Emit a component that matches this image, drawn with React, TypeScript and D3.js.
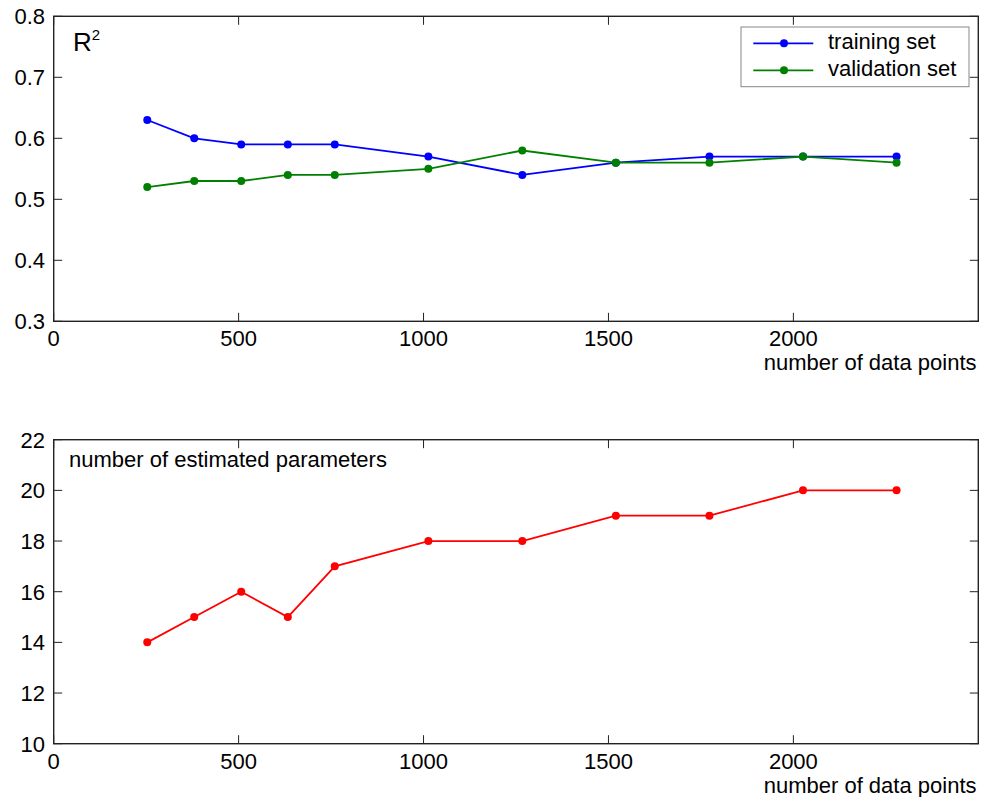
import React from "react";
import * as d3 from "d3";

const sizes = [253, 380, 507, 633, 760, 1013, 1267, 1520, 1773, 2026, 2279];
const trainingR2 = [0.63, 0.6, 0.59, 0.59, 0.59, 0.57, 0.54, 0.56, 0.57, 0.57, 0.57];
const validationR2 = [0.52, 0.53, 0.53, 0.54, 0.54, 0.55, 0.58, 0.56, 0.56, 0.57, 0.56];
const numParams = [14, 15, 16, 15, 17, 18, 18, 19, 19, 20, 20];
const xTicks = [0, 500, 1000, 1500, 2000];
const r2Ticks = [0.3, 0.4, 0.5, 0.6, 0.7, 0.8];
const paramTicks = [10, 12, 14, 16, 18, 20, 22];

const W = 982;
const H = 797;
const FONT = "'Liberation Sans', Arial, sans-serif";
const AX = "#222";

type Series = { values: number[]; color: string };

function Panel(props: {
  top: number;
  bottom: number;
  yDomain: [number, number];
  yTicks: number[];
  yFmt: (v: number) => string;
  series: Series[];
  children?: React.ReactNode;
}) {
  const { top, bottom, yDomain, yTicks, yFmt, series } = props;
  const left = 53.7;
  const right = 978.3;
  const x = d3.scaleLinear().domain([0, 2500]).range([left, right]);
  const y = d3.scaleLinear().domain(yDomain).range([bottom, top]);
  const tl = 8.5;
  return (
    <g>
      {series.map((s, si) => {
        const line = d3
          .line<number>()
          .x((_, i) => x(sizes[i]))
          .y((v) => y(v));
        return (
          <g key={si}>
            <path d={line(s.values) || ""} fill="none" stroke={s.color} strokeWidth={1.8} />
            {s.values.map((v, i) => (
              <circle key={i} cx={x(sizes[i])} cy={y(v)} r={4} fill={s.color} />
            ))}
          </g>
        );
      })}
      {xTicks.map((t) => (
        <g key={"x" + t}>
          <line x1={x(t)} x2={x(t)} y1={bottom} y2={bottom - tl} stroke={AX} strokeWidth={1} />
          <line x1={x(t)} x2={x(t)} y1={top} y2={top + tl} stroke={AX} strokeWidth={1} />
          <text x={x(t)} y={bottom + 25} fontSize={22} textAnchor="middle" fontFamily={FONT} fill="#000">
            {t}
          </text>
        </g>
      ))}
      {yTicks.map((t) => (
        <g key={"y" + t}>
          <line x1={left} x2={left + tl} y1={y(t)} y2={y(t)} stroke={AX} strokeWidth={1} />
          <line x1={right} x2={right - tl} y1={y(t)} y2={y(t)} stroke={AX} strokeWidth={1} />
          <text x={45} y={y(t)} dy="0.36em" fontSize={22} textAnchor="end" fontFamily={FONT} fill="#000">
            {yFmt(t)}
          </text>
        </g>
      ))}
      <rect x={left} y={top} width={right - left} height={bottom - top} fill="none" stroke={AX} strokeWidth={1.4} />
      <text x={976.5} y={bottom + 49} fontSize={22} textAnchor="end" fontFamily={FONT} fill="#000">
        number of data points
      </text>
      {props.children}
    </g>
  );
}

export default function App() {
  const legendItems = [
    { label: "training set", color: "#0000ff" },
    { label: "validation set", color: "#008000" },
  ];
  return (
    <svg width={W} height={H} style={{ position: "absolute", left: 0, top: 0, background: "#fff" }}>
      <rect width={W} height={H} fill="#fff" />
      <Panel
        top={16.3}
        bottom={321.3}
        yDomain={[0.3, 0.8]}
        yTicks={r2Ticks}
        yFmt={(v) => v.toFixed(1)}
        series={[
          { values: trainingR2, color: "#0000ff" },
          { values: validationR2, color: "#008000" },
        ]}
      >
        <text x={73} y={50.5} fontSize={26} fontFamily={FONT} fill="#000">
          R<tspan fontSize={15} dy={-11}>2</tspan>
        </text>
        <g>
          <rect x={741} y={27} width={228} height={59.7} fill="#fff" stroke="#888" strokeWidth={1} />
          {legendItems.map((it, i) => {
            const cy = 43.3 + i * 27;
            return (
              <g key={it.label}>
                <line x1={753.3} x2={813.3} y1={cy} y2={cy} stroke={it.color} strokeWidth={1.8} />
                <circle cx={784} cy={cy} r={4} fill={it.color} />
                <text x={828} y={cy + 5.5} fontSize={22} fontFamily={FONT} fill="#000">
                  {it.label}
                </text>
              </g>
            );
          })}
        </g>
      </Panel>
      <Panel
        top={439.7}
        bottom={743.7}
        yDomain={[10, 22]}
        yTicks={paramTicks}
        yFmt={(v) => String(v)}
        series={[{ values: numParams, color: "#ff0000" }]}
      >
        <text x={69} y={466.7} fontSize={22} fontFamily={FONT} fill="#000">
          number of estimated parameters
        </text>
      </Panel>
    </svg>
  );
}
